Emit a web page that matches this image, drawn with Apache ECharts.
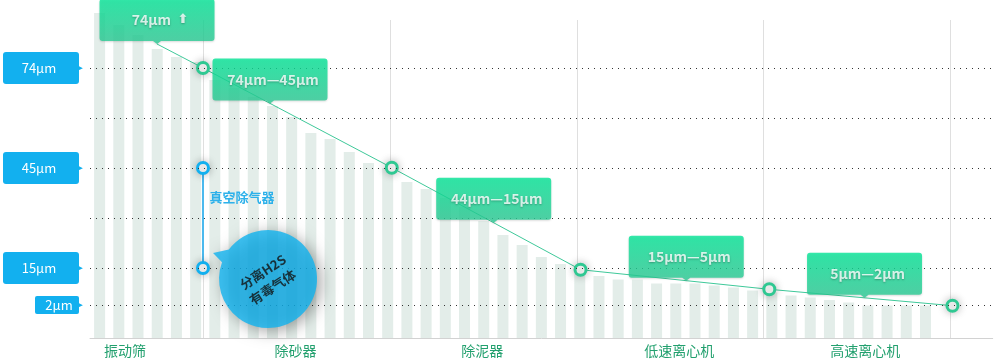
<!DOCTYPE html>
<html><head><meta charset="utf-8">
<script src="https://cdn.jsdelivr.net/npm/echarts@6/dist/echarts.min.js"></script>
<style>html,body{margin:0;padding:0;background:#fff}#c{width:999px;height:359px}</style>
</head><body><div id="c"></div>
<script>
// ---------- data ----------
const categories = ['振动筛', '除砂器', '除泥器', '低速离心机', '高速离心机'];
const sizeLabels = ['74μm', '45μm', '15μm', '2μm'];
const sizeLevels = [27, 17, 7, 3.3];
const guideLevels = [27, 22, 17, 12, 7, 3.3];
const barValues = [32.5, 31.3, 30.3, 28.9, 28.1, 27.6, 25.8, 25.0, 24.1, 23.2, 22.1, 20.5, 19.9, 18.6, 17.5, 17.0,
  15.6, 14.9, 14.0, 13.1, 11.7, 10.3, 9.3, 8.1, 7.4, 6.8, 6.2, 5.85, 5.85, 5.45, 5.45, 5.45, 5.25, 5.05, 4.75,
  4.55, 4.25, 4.05, 3.8, 3.55, 3.25, 3.25, 3.25, 3.25];
const curveX = [0.754, 1, 2.01, 3.02, 4.03, 5.01];
const curveY = [29.4, 27, 17.03, 6.83, 4.87, 3.23];
const rangeLabels = ['74μm  {a|⬆}', '74μm—45μm', '44μm—15μm', '15μm—5μm', '5μm—2μm'];
const rangeT = [0, 0.355, 0.54, 0.56, 0.52];
const degasX = [1, 1];
const degasY = [17, 7];
const degasName = '真空除气器';
const degasTextAt = [1, 14.1];
const bubbleText = '分离H2S\n有毒气体';
const bubbleAt = [1.348, 5.9];

// ---------- chart ----------
const FONT = '"Noto Sans CJK SC","Microsoft YaHei","DejaVu Sans",sans-serif';
const BLUE = '#12b0ef';
const chart = echarts.init(document.getElementById('c'), null, {renderer: 'canvas'});

const barCats = barValues.map((_, i) => 'b' + i).concat(['p1', 'p2', 'p3']);
const barData = barValues.concat(['-', '-', '-']);
const curve = curveX.map((x, i) => [x, curveY[i]]);
const anchors = rangeLabels.map((_, i) => {
  const a = curve[i], b = curve[i + 1], f = rangeT[i];
  return [a[0] + (b[0] - a[0]) * f, a[1] + (b[1] - a[1]) * f];
});

const boxPath = 'path://M3,0H112Q115,0,115,3V39Q115,42,112,42H61.5L57.5,45L53.5,42H3Q0,42,0,39V3Q0,0,3,0Z';
const bubblePath = 'path://M-46.04,-16.76L-55,-26L-39.13,-29.49A49,49,0,1,1,-46.04,-16.76Z';

const markerStyle = (c) => ({
  color: '#fff', borderColor: c, borderWidth: 3,
  shadowBlur: 9, shadowColor: 'rgba(0,0,0,0.25)'
});

const option = {
  animation: false,
  backgroundColor: '#fff',
  textStyle: {fontFamily: FONT},
  grid: [
    {left: 87, right: 6.3, top: 8, bottom: 21},
    {left: 16.1, right: 48.4, top: 20, bottom: 21}
  ],
  xAxis: [
    {gridIndex: 0, type: 'category', data: barCats, boundaryGap: true,
      axisLine: {show: true, lineStyle: {color: '#d2d2d2', width: 1}},
      axisTick: {show: false}, axisLabel: {show: false}, splitLine: {show: false}},
    {gridIndex: 1, type: 'value', min: 0, max: 5, interval: 1,
      axisLine: {show: false}, axisTick: {show: false}, axisLabel: {show: false},
      splitLine: {show: true, showMinLine: false, lineStyle: {color: '#dfdfdf', width: 1}}},
    {gridIndex: 1, type: 'category', data: categories, position: 'bottom', boundaryGap: true,
      axisLine: {show: false}, axisTick: {show: false}, splitLine: {show: false},
      axisLabel: {
        margin: 6, fontSize: 14, color: '#22a06e', interval: 0,
        formatter: (v, i) => '{c' + i + '|' + v + '}',
        rich: {
          c0: {fontSize: 14, color: '#22a06e', padding: [0, 0, 0, 31]},
          c1: {fontSize: 14, color: '#22a06e', padding: [0, 2, 0, 0]},
          c2: {fontSize: 14, color: '#22a06e', padding: [0, 2, 0, 0]},
          c3: {fontSize: 14, color: '#22a06e', padding: [0, 0, 0, 18]},
          c4: {fontSize: 14, color: '#22a06e', padding: [0, 0, 0, 16]}
        }
      }}
  ],
  yAxis: [
    {gridIndex: 0, type: 'value', min: 0, max: 33, position: 'left',
      axisLine: {show: false}, axisTick: {show: false}, splitLine: {show: false},
      axisLabel: {
        customValues: sizeLevels, margin: 7,
        formatter: (v) => {
          const i = sizeLevels.indexOf(v);
          return i < 0 ? '' : '{t|▶}';
        },
        rich: {t: {color: BLUE, fontSize: 7, fontFamily: '"DejaVu Sans",sans-serif'}}
      }},
    {gridIndex: 0, type: 'value', min: 0, max: 33, position: 'left',
      axisLine: {show: false}, axisTick: {show: false}, splitLine: {show: false},
      axisLabel: {
        customValues: sizeLevels, margin: 11,
        formatter: (v) => {
          const i = sizeLevels.indexOf(v);
          return i < 0 ? '' : (i === sizeLevels.length - 1 ? '{s|' : '{b|') + sizeLabels[i] + '}';
        },
        rich: {
          b: {width: 72, height: 32, lineHeight: 32, align: 'center', padding: [0, 4, 0, 0],
            backgroundColor: BLUE, borderRadius: 3, color: '#fff', fontSize: 13},
          s: {width: 40, height: 18, lineHeight: 18, align: 'center', padding: [0, 0, 0, 4],
            backgroundColor: BLUE, borderRadius: 2, color: '#fff', fontSize: 13}
        }
      }},
    {gridIndex: 1, type: 'value', min: 0, max: 31.8, show: false}
  ],
  series: [
    {
      type: 'bar', xAxisIndex: 0, yAxisIndex: 0, data: barData, barWidth: 11,
      itemStyle: {color: '#e3ede9'}, silent: true,
      markLine: {
        silent: true, symbol: ['none', 'none'], label: {show: false},
        lineStyle: {color: '#333', type: [1, 5], width: 1.2},
        data: guideLevels.map(v => ({yAxis: v}))
      }
    },
    {
      type: 'line', xAxisIndex: 1, yAxisIndex: 2, z: 4, clip: false,
      data: curve.map((p, i) => i === 0 ? {value: p, symbol: 'none'} : p),
      showAllSymbol: true, symbol: 'circle', symbolSize: 11,
      lineStyle: {color: '#3fc99a', width: 1},
      itemStyle: markerStyle('#2fc892')
    },
    {
      type: 'line', xAxisIndex: 1, yAxisIndex: 2, z: 4, clip: false,
      data: degasX.map((x, i) => [x, degasY[i]]),
      symbol: 'circle', symbolSize: 11,
      lineStyle: {color: '#4bb9ee', width: 2},
      itemStyle: markerStyle(BLUE),
      markPoint: {
        silent: true, symbol: 'circle', symbolSize: 1, itemStyle: {color: 'rgba(0,0,0,0)'},
        data: [{coord: degasTextAt, label: {show: true, formatter: degasName, position: 'right', distance: 6,
          color: '#2db1ea', fontSize: 13, fontWeight: 'bold', fontFamily: FONT}}]
      }
    },
    {
      type: 'scatter', xAxisIndex: 1, yAxisIndex: 2, z: 10, clip: false,
      data: anchors.map((p, i) => ({value: p, label: {formatter: rangeLabels[i]}})),
      symbol: boxPath, symbolSize: [115, 45], symbolOffset: [0, '-50%'],
      itemStyle: {
        color: new echarts.graphic.LinearGradient(0, 0, 0, 1, [
          {offset: 0, color: '#03e697'}, {offset: 1, color: '#2dca95'}]),
        shadowBlur: 2, shadowColor: 'rgba(0,0,0,0.18)', shadowOffsetY: 1
      },
      label: {
        show: true, position: 'inside', offset: [3, -1.5], color: '#fff', fontSize: 14, fontWeight: 'bold',
        fontFamily: FONT, textShadowColor: 'rgba(0,0,0,0.35)', textShadowBlur: 2, textShadowOffsetY: 1,
        rich: {a: {fontSize: 13, color: '#fff', fontWeight: 'bold', fontFamily: '"DejaVu Sans",sans-serif',
          textShadowColor: 'rgba(0,0,0,0.35)', textShadowBlur: 2, textShadowOffsetY: 1}}
      }
    },
    {
      type: 'scatter', xAxisIndex: 1, yAxisIndex: 2, z: 12, clip: false,
      data: [{value: bubbleAt}],
      symbol: bubblePath, symbolSize: [104, 98], symbolOffset: [-3, 0],
      itemStyle: {color: '#10b3ef', shadowBlur: 16, shadowColor: 'rgba(0,0,0,0.45)', shadowOffsetX: 4, shadowOffsetY: 3},
      label: {
        show: true, position: 'inside', offset: [2, 2], rotate: 33, formatter: bubbleText,
        color: '#111', fontSize: 13, fontWeight: 'bold', lineHeight: 18, fontFamily: FONT
      }
    }
  ]
};
chart.setOption(option);
</script>
</body></html>
